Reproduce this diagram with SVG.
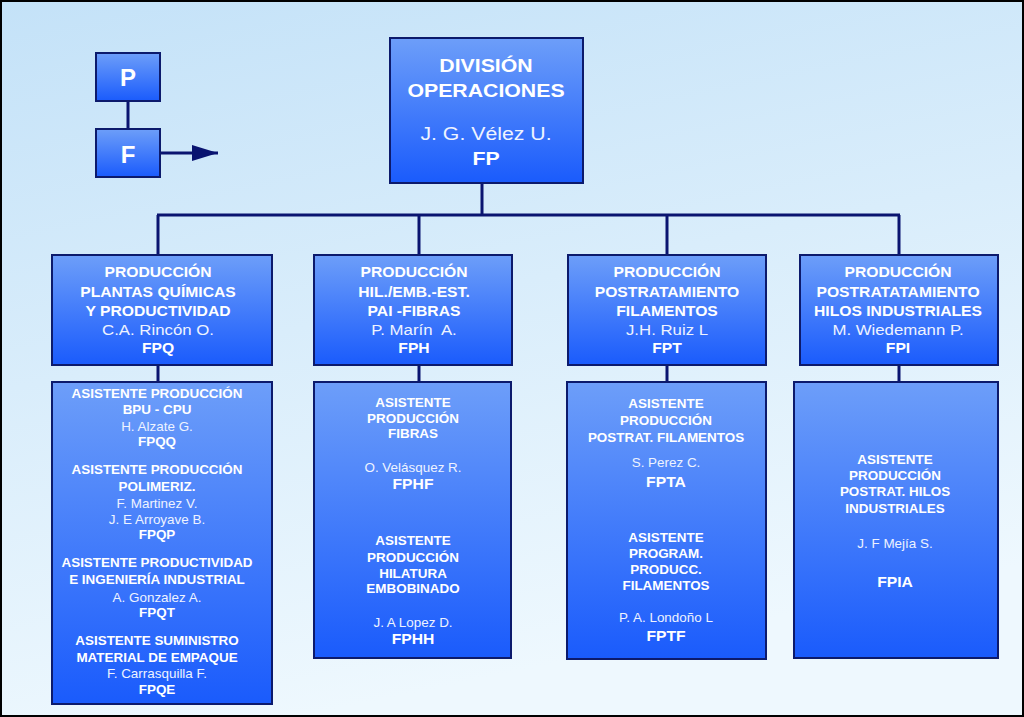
<svg xmlns="http://www.w3.org/2000/svg" width="1024" height="717" viewBox="0 0 1024 717">
<defs>
<linearGradient id="bg" x1="0" y1="0" x2="0.3" y2="1">
<stop offset="0" stop-color="#c4e2f8"/>
<stop offset="1" stop-color="#eef8fe"/>
</linearGradient>
<linearGradient id="box" x1="0" y1="0" x2="0" y2="1">
<stop offset="0" stop-color="#6d9ef9"/>
<stop offset="1" stop-color="#1a5bfc"/>
</linearGradient>
<marker id="arr" markerWidth="26" markerHeight="16" refX="26" refY="8" orient="auto" markerUnits="userSpaceOnUse">
<path d="M0,0 L26,8 L0,16 Z" fill="#0a1470"/>
</marker>
</defs>
<style>
.node rect{fill:url(#box);stroke:#0c1a6c;stroke-width:2}
.conn line,.conn path{stroke:#0a1470;stroke-width:3;fill:none}
text{font-family:"Liberation Sans",Arial,sans-serif;text-anchor:middle;fill:#ffffff}
.b{font-weight:bold}
.r{fill:#eef3ff}
.t1{font-size:19px}
.m{font-size:14px}
.mr{font-size:15px}
.s{font-size:12px}
.c14{font-size:14px}
.pf{font-size:24px;font-weight:bold}
</style>
<rect x="1" y="1" width="1022" height="715" fill="url(#bg)" stroke="#000" stroke-width="2"/>

<g class="conn">
<line x1="128" y1="101" x2="128" y2="129"/>
<line x1="160" y1="153" x2="218" y2="153" marker-end="url(#arr)"/>
<line x1="482" y1="183" x2="482" y2="215"/>
<line x1="157" y1="215" x2="900" y2="215"/>
<line x1="158" y1="215" x2="158" y2="255"/>
<line x1="419" y1="215" x2="419" y2="255"/>
<line x1="667" y1="215" x2="667" y2="255"/>
<line x1="899" y1="215" x2="899" y2="255"/>
<line x1="158" y1="366" x2="158" y2="382"/>
<line x1="419" y1="366" x2="419" y2="382"/>
<line x1="667" y1="366" x2="667" y2="382"/>
<line x1="899" y1="366" x2="899" y2="382"/>
</g>

<g id="node-p" class="node">
<rect x="96" y="53" width="64" height="48"/>
<text class="pf" x="128" y="86">P</text>
</g>
<g id="node-f" class="node">
<rect x="96" y="129" width="64" height="48"/>
<text class="pf" x="128" y="163">F</text>
</g>

<g id="node-fp" class="node">
<rect x="390" y="38" width="193" height="145"/>
<g transform="translate(486 0) scale(1.12 1)">
<text class="b t1" x="0" y="72">DIVISIÓN</text>
<text class="b t1" x="0" y="97">OPERACIONES</text>
<text class="r t1" x="0" y="140">J. G. Vélez U.</text>
<text class="b t1" x="0" y="165">FP</text>
</g>
</g>

<g id="node-fpq" class="node">
<rect x="52" y="255" width="220" height="110"/>
<g transform="translate(158 0) scale(1.12 1)">
<text class="b m" x="0" y="277">PRODUCCIÓN</text>
<text class="b m" x="0" y="297">PLANTAS QUÍMICAS</text>
<text class="b m" x="0" y="316">Y PRODUCTIVIDAD</text>
<text class="r mr" x="0" y="335">C.A. Rincón O.</text>
<text class="b m" x="0" y="353">FPQ</text>
</g>
</g>

<g id="node-fph" class="node">
<rect x="314" y="255" width="198" height="110"/>
<g transform="translate(414 0) scale(1.12 1)">
<text class="b m" x="0" y="277">PRODUCCIÓN</text>
<text class="b m" x="0" y="297">HIL./EMB.-EST.</text>
<text class="b m" x="0" y="316">PAI -FIBRAS</text>
<text class="r mr" x="0" y="335" xml:space="preserve">P. Marín  A.</text>
<text class="b m" x="0" y="353">FPH</text>
</g>
</g>

<g id="node-fpt" class="node">
<rect x="568" y="255" width="198" height="110"/>
<g transform="translate(667 0) scale(1.12 1)">
<text class="b m" x="0" y="277">PRODUCCIÓN</text>
<text class="b m" x="0" y="297">POSTRATAMIENTO</text>
<text class="b m" x="0" y="316">FILAMENTOS</text>
<text class="r mr" x="0" y="335">J.H. Ruiz L</text>
<text class="b m" x="0" y="353">FPT</text>
</g>
</g>

<g id="node-fpi" class="node">
<rect x="800" y="255" width="198" height="110"/>
<g transform="translate(898 0) scale(1.12 1)">
<text class="b m" x="0" y="277">PRODUCCIÓN</text>
<text class="b m" x="0" y="297">POSTRATATAMIENTO</text>
<text class="b m" x="0" y="316">HILOS INDUSTRIALES</text>
<text class="r mr" x="0" y="335">M. Wiedemann P.</text>
<text class="b m" x="0" y="353">FPI</text>
</g>
</g>

<g id="node-fpq-asist" class="node">
<rect x="52" y="382" width="220" height="322"/>
<g transform="translate(157 0) scale(1.12 1)">
<text class="b s" x="0" y="398">ASISTENTE PRODUCCIÓN</text>
<text class="b s" x="0" y="414">BPU - CPU</text>
<text class="r s" x="0" y="431">H. Alzate G.</text>
<text class="b s" x="0" y="446">FPQQ</text>
<text class="b s" x="0" y="474">ASISTENTE PRODUCCIÓN</text>
<text class="b s" x="0" y="491">POLIMERIZ.</text>
<text class="r s" x="0" y="508">F. Martinez V.</text>
<text class="r s" x="0" y="524">J. E Arroyave B.</text>
<text class="b s" x="0" y="539">FPQP</text>
<text class="b s" x="0" y="567">ASISTENTE PRODUCTIVIDAD</text>
<text class="b s" x="0" y="584">E INGENIERÍA INDUSTRIAL</text>
<text class="r s" x="0" y="602">A. Gonzalez A.</text>
<text class="b s" x="0" y="617">FPQT</text>
<text class="b s" x="0" y="645">ASISTENTE SUMINISTRO</text>
<text class="b s" x="0" y="662">MATERIAL DE EMPAQUE</text>
<text class="r s" x="0" y="678">F. Carrasquilla F.</text>
<text class="b s" x="0" y="694">FPQE</text>
</g>
</g>

<g id="node-fph-asist" class="node">
<rect x="314" y="382" width="197" height="276"/>
<g transform="translate(413 0) scale(1.12 1)">
<text class="b s" x="0" y="407">ASISTENTE</text>
<text class="b s" x="0" y="423">PRODUCCIÓN</text>
<text class="b s" x="0" y="438">FIBRAS</text>
<text class="r s" x="0" y="472">O. Velásquez R.</text>
<text class="b c14" x="0" y="489">FPHF</text>
<text class="b s" x="0" y="545">ASISTENTE</text>
<text class="b s" x="0" y="562">PRODUCCIÓN</text>
<text class="b s" x="0" y="578">HILATURA</text>
<text class="b s" x="0" y="593">EMBOBINADO</text>
<text class="r s" x="0" y="627">J. A Lopez D.</text>
<text class="b c14" x="0" y="644">FPHH</text>
</g>
</g>

<g id="node-fpt-asist" class="node">
<rect x="567" y="382" width="199" height="277"/>
<g transform="translate(666 0) scale(1.12 1)">
<text class="b s" x="0" y="408">ASISTENTE</text>
<text class="b s" x="0" y="425">PRODUCCIÓN</text>
<text class="b s" x="0" y="442">POSTRAT. FILAMENTOS</text>
<text class="r s" x="0" y="467">S. Perez C.</text>
<text class="b c14" x="0" y="487">FPTA</text>
<text class="b s" x="0" y="542">ASISTENTE</text>
<text class="b s" x="0" y="558">PROGRAM.</text>
<text class="b s" x="0" y="574">PRODUCC.</text>
<text class="b s" x="0" y="590">FILAMENTOS</text>
<text class="r s" x="0" y="622">P. A. Londoño L</text>
<text class="b c14" x="0" y="641">FPTF</text>
</g>
</g>

<g id="node-fpi-asist" class="node">
<rect x="794" y="382" width="204" height="276"/>
<g transform="translate(895 0) scale(1.12 1)">
<text class="b s" x="0" y="464">ASISTENTE</text>
<text class="b s" x="0" y="480">PRODUCCIÓN</text>
<text class="b s" x="0" y="496">POSTRAT. HILOS</text>
<text class="b s" x="0" y="513">INDUSTRIALES</text>
<text class="r s" x="0" y="548">J. F Mejía S.</text>
<text class="b c14" x="0" y="587">FPIA</text>
</g>
</g>
</svg>
